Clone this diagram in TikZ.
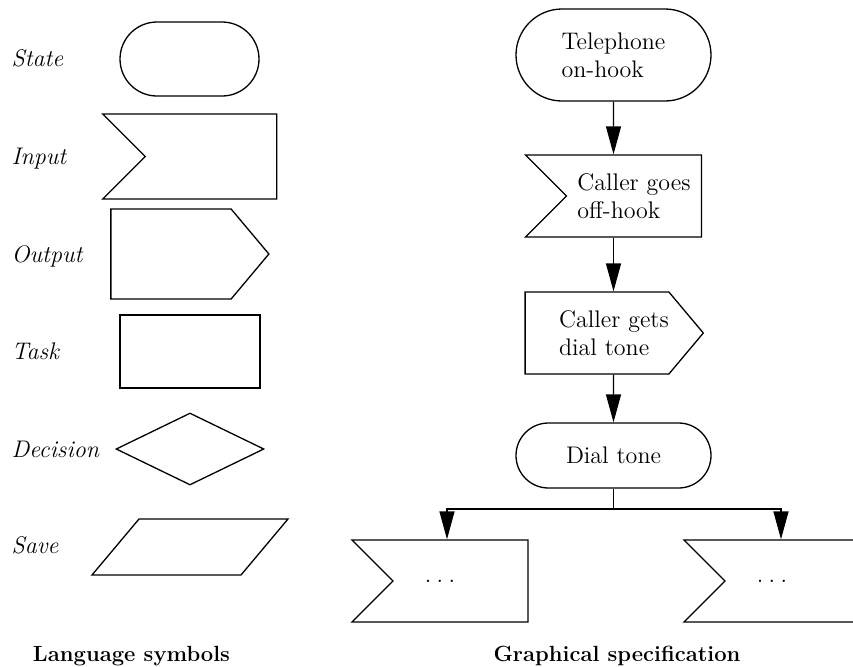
\documentclass[tikz,border=0pt]{standalone}
\usepackage{tikz}
\usetikzlibrary{shapes.geometric, shapes.misc, shapes.symbols, arrows.meta, positioning, calc}

\begin{document}
\begin{tikzpicture}[
    x=0.5pt, y=-0.5pt,
    font=\fontsize{12pt}{14pt}\selectfont,
    line width=0.65pt,
    statebox/.style={rounded rectangle, draw, inner sep=0pt, align=left},
    inbox/.style={signal, signal from=west, signal to=nowhere, signal pointer angle=90, draw, inner sep=0pt, align=left},
    outbox/.style={signal, signal to=east, signal pointer angle=100, draw, inner sep=0pt, align=left},
    taskbox/.style={rectangle, draw, inner sep=0pt},
    decisionbox/.style={diamond, draw, inner sep=0pt},
    savebox/.style={trapezium, trapezium left angle=50, trapezium right angle=130, draw, inner xsep=25.5pt, inner ysep=14pt},
    symlabel/.style={anchor=base west, inner sep=0pt, font=\fontsize{12pt}{14pt}\selectfont\itshape},
    caption/.style={anchor=base, inner sep=0pt, font=\fontsize{11pt}{14pt}\selectfont\bfseries},
    flow/.style={-{Triangle[length=14pt, width=7.5pt]}}
]
    \clip (0,0) rectangle (853,666);

    % language symbols
    \node (lstate) [statebox, minimum width=69.5pt, minimum height=37pt] at (189.5,59) {};
    \node (linput) [inbox, minimum width=87pt, minimum height=42.5pt] at (211,156.5) {};
    \node (loutput) [outbox, minimum width=79pt, minimum height=45pt] at (171,254) {};
    \node (ltask) [taskbox, minimum width=70pt, minimum height=36.5pt] at (190,351.5) {};
    \node (ldecision) [decisionbox, minimum width=74pt, minimum height=36pt] at (190,449) {};
    \node (lsave) [savebox] at (190,547) {};

    \node (tstate) [symlabel] at (11,66) {State};
    \node (tinput) [symlabel] at (11,164) {Input};
    \node (toutput) [symlabel] at (11,262) {Output};
    \node (ttask) [symlabel] at (11,359) {Task};
    \node (tdecision) [symlabel] at (11,457) {Decision};
    \node (tsave) [symlabel] at (11,553) {Save};

    % graphical specification
    \node (onhook) [statebox, minimum width=97.5pt, minimum height=46pt] at (613.5,55) {Telephone\\on-hook};
    \node (offhook) [inbox, minimum width=88pt, minimum height=41pt] at (634,196) {Caller goes\\off-hook};
    \node (gettone) [outbox, minimum width=79pt, minimum height=41pt] at (597,333) {\hspace*{17pt}Caller gets\\\hspace*{17pt}dial tone};
    \node (tone) [statebox, minimum width=97.5pt, minimum height=32.5pt] at (613.5,455.5) {Dial tone};
    \node (nextl) [inbox, minimum width=88pt, minimum height=41pt] at (460.5,581) {.\hspace{2.7pt}.\hspace{2.7pt}.\hspace*{20.5pt}};
    \node (nextr) [inbox, minimum width=88pt, minimum height=41pt] at (792.5,581) {.\hspace{2.7pt}.\hspace{2.7pt}.\hspace*{20.5pt}};

    \coordinate (split) at (613.5,509);

    \draw[flow] (onhook) -- (onhook |- offhook.north);
    \draw[flow] (onhook |- offhook.south) -- (onhook |- gettone.north);
    \draw[flow] (onhook |- gettone.south) -- (tone);
    \draw (tone.south) -- (split);
    \draw[flow] (split) -| ([xshift=-6.75pt]nextl.north);
    \draw[flow] (split) -| ([xshift=-5.75pt]nextr.north);

    \node (lcaption) [caption] at (131.5,661) {Language symbols};
    \node (gcaption) [caption] at (617,661) {Graphical specification};
\end{tikzpicture}
\end{document}
